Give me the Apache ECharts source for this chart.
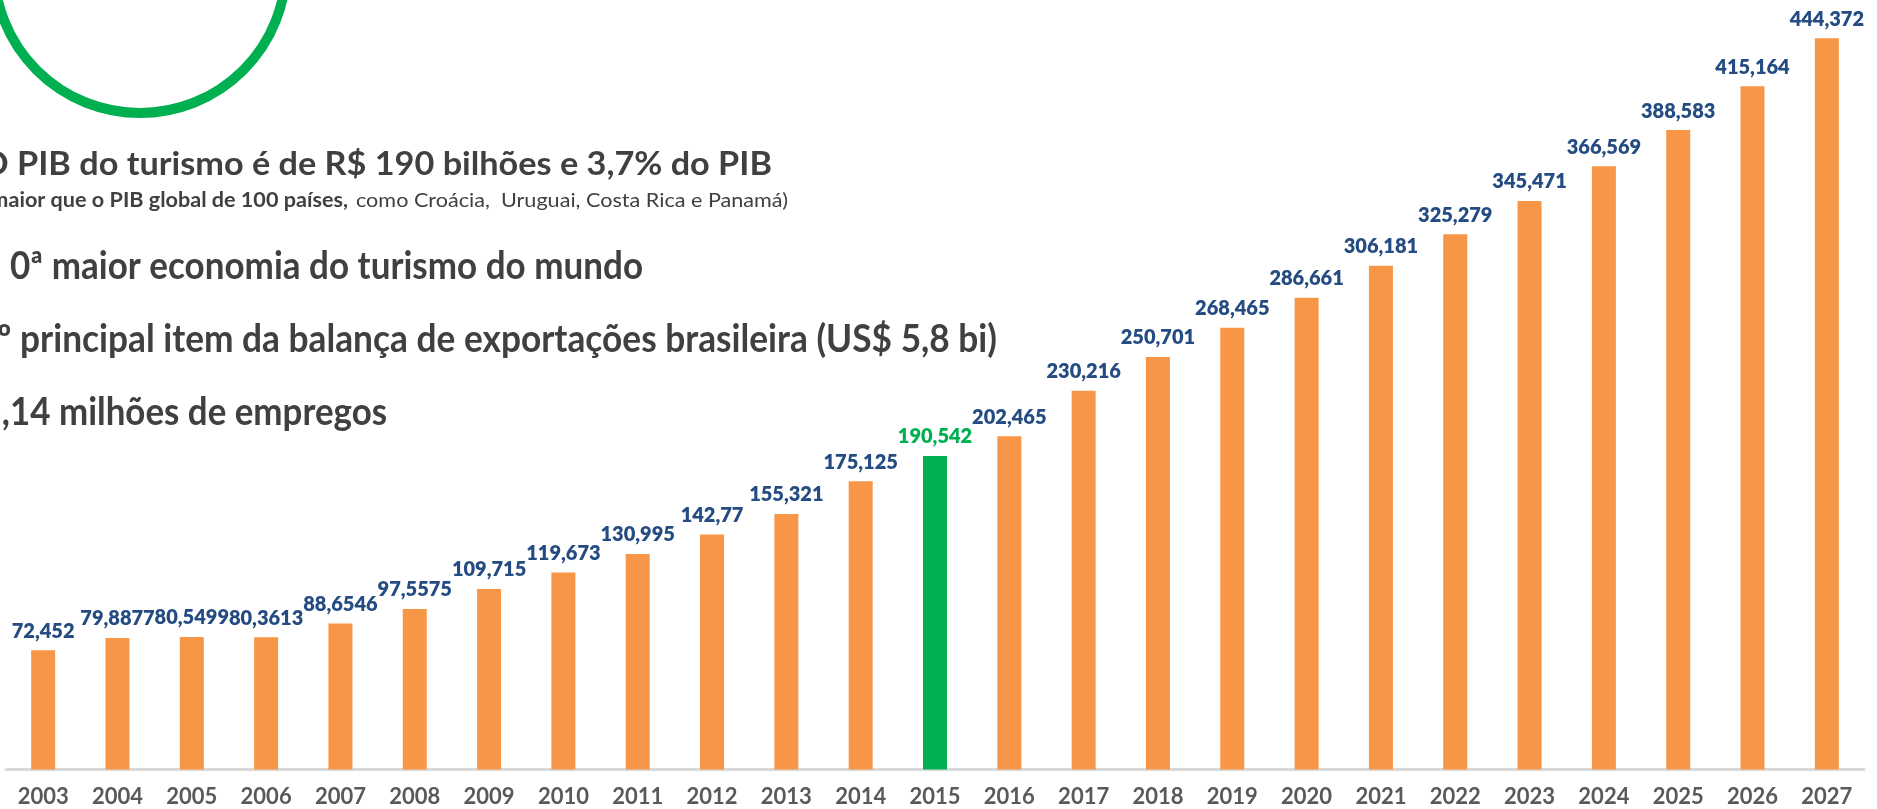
<!DOCTYPE html>
<html>
<head>
<meta charset="utf-8">
<script src="https://cdn.jsdelivr.net/npm/echarts/dist/echarts.min.js"></script>
<style>
  html, body { margin: 0; padding: 0; background: #fff; }
  #main { width: 1877px; height: 809px; }
</style>
</head>
<body>
<div id="main"></div>
<script>
// anos e PIB do turismo (R$ bilhões)
const anos = ['2003', '2004', '2005', '2006', '2007', '2008', '2009', '2010', '2011', '2012', '2013', '2014', '2015',
  '2016', '2017', '2018', '2019', '2020', '2021', '2022', '2023', '2024', '2025', '2026', '2027'];
const pibTurismo = [72.452, 79.8877, 80.5499, 80.3613, 88.6546, 97.5575, 109.715, 119.673, 130.995, 142.77, 155.321, 175.125,
  190.542, 202.465, 230.216, 250.701, 268.465, 286.661, 306.181, 325.279, 345.471, 366.569, 388.583, 415.164, 444.372];
const anoDestaque = '2015';

const laranja = '#F79646';
const verde = '#00B050';
const azulRotulo = '#244C82';
const cinzaTexto = '#404040';

// largura do texto, para comprimir na horizontal como no slide
const ctx = document.createElement('canvas').getContext('2d');
function escala(trecho, font, alvo) {
  ctx.font = font;
  return alvo / ctx.measureText(trecho).width;
}

// linha de texto comprimida para caber na largura medida
function linha(texto, trechoVisivel, larguraVisivel, x, baseline, size, weight, align) {
  const font = weight + ' ' + size + 'px Lato';
  const s = escala(trechoVisivel, font, larguraVisivel);
  return {
    type: 'text',
    x: x,
    y: baseline - size * 0.38,
    scaleX: s,
    style: {
      text: texto,
      fontFamily: 'Lato',
      fontSize: size,
      fontWeight: weight,
      fill: cinzaTexto,
      align: align || 'right',
      verticalAlign: 'middle'
    }
  };
}

const sub = escala('como Croácia,  Uruguai, Costa Rica e Panamá)', 'normal 20px Lato', 432);
const l3 = linha('0ª maior economia do turismo do mundo', '0ª maior economia do turismo do mundo', 633, 10, 281, 39, 'bold', 'left');
// o "1" de "10ª" fica cortado pela borda, como no slide
const l3a = Object.assign({}, l3, { x: 1, style: Object.assign({}, l3.style, { text: '1', align: 'right' }) });

const chart = echarts.init(document.getElementById('main'));
chart.setOption({
  animation: false,
  grid: { left: 6, right: 13, top: 29, bottom: 39.5, containLabel: false, outerBoundsMode: 'none' },
  xAxis: {
    type: 'category',
    data: anos,
    axisTick: { show: false },
    axisLine: { lineStyle: { color: '#D9D9D9', width: 3 } },
    axisLabel: {
      color: '#595959',
      fontFamily: 'Lato',
      fontWeight: 'bold',
      fontSize: 22,
      margin: 16
    }
  },
  yAxis: { type: 'value', min: 0, max: 450, show: false, splitLine: { show: false } },
  series: [{
    type: 'bar',
    barWidth: 24,
    data: pibTurismo.map((v, i) => ({
      value: v,
      itemStyle: { color: anos[i] === anoDestaque ? verde : laranja },
      label: { color: anos[i] === anoDestaque ? verde : azulRotulo }
    })),
    label: {
      show: true,
      position: 'top',
      distance: 9,
      fontFamily: 'Lato',
      fontWeight: 800,
      fontSize: 20,
      formatter: p => String(p.value).replace('.', ',')
    }
  }],
  graphic: [
    { type: 'circle', shape: { cx: 140, cy: -33, r: 146 }, style: { fill: 'none', stroke: verde, lineWidth: 10 } },
    linha('O PIB do turismo é de R$ 190 bilhões e 3,7% do PIB', 'PIB do turismo é de R$ 190 bilhões e 3,7% do PIB', 755, 772, 177, 32, 'bold'),
    {
      type: 'text', x: 348, y: 208 - 20 * 0.38, scaleX: sub,
      style: { text: '(É maior que o PIB global de 100 países,', fontFamily: 'Lato', fontSize: 20, fontWeight: 'bold',
        fill: cinzaTexto, align: 'right', verticalAlign: 'middle' }
    },
    {
      type: 'text', x: 356, y: 208 - 20 * 0.38, scaleX: sub,
      style: { text: 'como Croácia,  Uruguai, Costa Rica e Panamá)', fontFamily: 'Lato', fontSize: 20, fontWeight: 'normal',
        fill: cinzaTexto, align: 'left', verticalAlign: 'middle' }
    },
    l3a,
    l3,
    linha('5º principal item da balança de exportações brasileira (US$ 5,8 bi)', 'principal item da balança de exportações brasileira (US$ 5,8 bi)', 977, 997, 354, 39, 'bold'),
    linha('3,14 milhões de empregos', '14 milhões de empregos', 377, 387, 427, 39, 'bold')
  ]
});
</script>
</body>
</html>
